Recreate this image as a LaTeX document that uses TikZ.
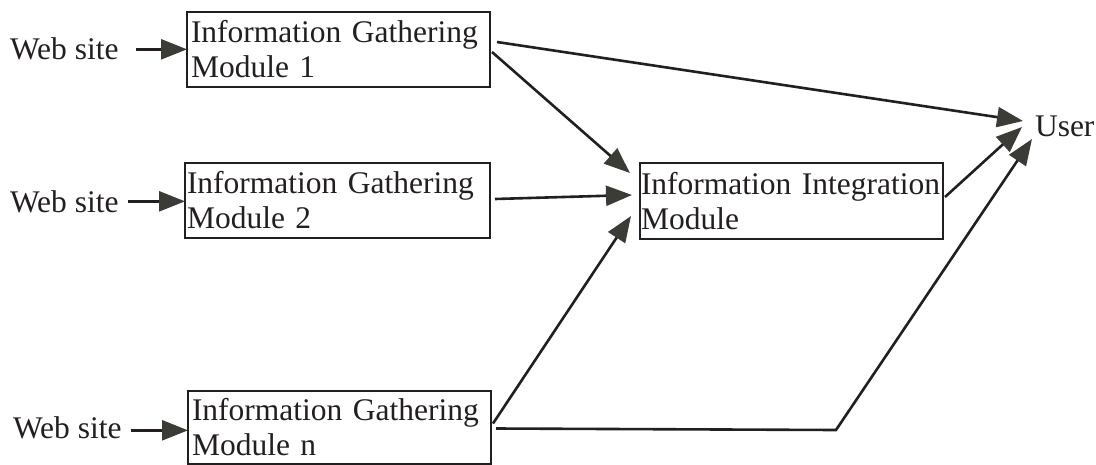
\documentclass[tikz,border=0pt]{standalone}
\usepackage{fontspec}
\setmainfont{Liberation Serif}
\usetikzlibrary{arrows.meta,calc}
\definecolor{headgray}{HTML}{3B3C36}
\definecolor{linek}{HTML}{231F20}
\begin{document}
\begin{tikzpicture}[x=1pt,y=-1pt,
  every node/.style={font=\fontsize{31.5}{35}\selectfont, text=linek},
  gbox/.style={draw=linek, line width=2.6pt, anchor=north west, align=left,
    text width=295pt, inner xsep=4pt, inner ysep=0pt, outer sep=0pt},
  lbl/.style={inner sep=0pt, outer sep=0pt, anchor=base west},
  conn/.style={draw=linek, line width=2.6pt},
  arr/.style={conn, -{Triangle[length=26pt,width=20pt,color=headgray]}}]
\useasboundingbox (0,0) rectangle (1096,464);
% boxes
\node[gbox, minimum height=75pt] (g1) at (187,12) {Information Gathering\\Module 1};
\node[gbox, minimum height=75pt, inner xsep=2pt, text width=301pt] (g2) at (185,163) {Information Gathering\\Module 2};
\node[gbox, minimum height=73pt] (gn) at (188,391) {Information Gathering\\Module n};
\node[gbox, minimum height=76pt, inner xsep=1pt, text width=301pt] (ii) at (640,163) {Information Integration\\Module};
% labels
\node[lbl] (w1) at (10,59) {Web site};
\node[lbl] (w2) at (10,212) {Web site};
\node[lbl] (wn) at (13,438) {Web site};
\node[inner sep=0pt, outer sep=0pt, anchor=west] (user) at (1035,126) {User};
% web site inputs
\draw[arr] ($(w1.east)+(17,1)$) -- ($(w1.east -| g1.west)+(0,1)$);
\draw[arr] ($(w2.east)+(9,0)$) -- ($(w2.east -| g2.west)+(0,0)$);
\draw[arr] ($(wn.east)+(9,3)$) -- ($(wn.east -| gn.west)+(0,3)$);
% module outputs
\draw[arr] ($(g1.east)+(7,-7.5)$) -- ($(user.west)+(-12,-5)$);
\draw[arr] ($(g1.east)+(2,2.5)$) -- ($(ii.north west)+(-10,10)$);
\draw[arr] ($(g2.east)+(5,-1.5)$) -- ($(ii.west)+(-8,-6)$);
\draw[arr] ($(gn.east)+(2,-4)$) -- ($(ii.west)+(-9,15)$);
\draw[arr] ($(ii.east)+(2,-4)$) -- ($(user.west)+(-13,1)$);
\coordinate (bend) at (836,430);
\draw[arr] ($(gn.east)+(5,1)$) -- (bend) -- ($(user.west)+(-3,13)$);
\end{tikzpicture}
\end{document}
